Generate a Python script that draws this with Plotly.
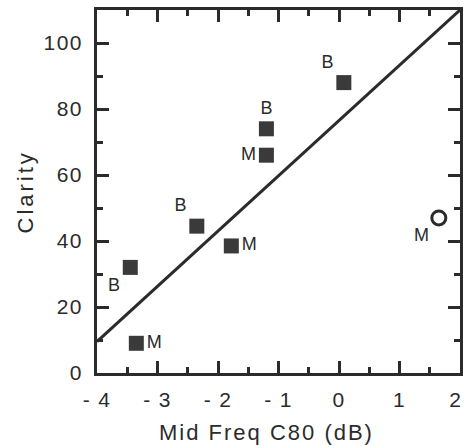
import plotly.graph_objects as go

# Data
filled_x = [0.08, -1.2, -1.2, -2.35, -1.78, -3.45, -3.35]
filled_y = [88, 74, 66, 44.5, 38.5, 32, 9]
filled_labels = ["B", "B", "M", "B", "M", "B", "M"]
filled_pos = ["top left", "top center", "middle left", "top left", "middle right", "bottom left", "middle right"]

open_x = [1.65]
open_y = [47]
open_labels = ["M"]
open_pos = ["bottom left"]

fit_x = [-4, 2]
fit_y = [9.5, 110]

x_tickvals = [-4, -3, -2, -1, 0, 1, 2]
x_ticktext = ["- 4", "- 3", "- 2", "- 1", "0", "1", "2"]
y_tickvals = [0, 20, 40, 60, 80, 100]

ink = "#2b2b2b"
font = "Liberation Sans, Arial, Helvetica, sans-serif"

fig = go.Figure()
fig.add_trace(go.Scatter(x=fit_x, y=fit_y, mode="lines",
                         line=dict(color=ink, width=3), showlegend=False, cliponaxis=False))
fig.add_trace(go.Scatter(x=filled_x, y=filled_y, mode="markers+text",
                         text=filled_labels, textposition=filled_pos,
                         textfont=dict(family=font, size=18, color=ink),
                         marker=dict(symbol="square", size=15, color="#3a3a3a",
                                     line=dict(width=0)),
                         showlegend=False))
fig.add_trace(go.Scatter(x=open_x, y=open_y, mode="markers+text",
                         text=open_labels, textposition=open_pos,
                         textfont=dict(family=font, size=18, color=ink),
                         marker=dict(symbol="circle-open", size=14, color=ink,
                                     line=dict(width=3)),
                         showlegend=False))

axis_common = dict(showgrid=False, zeroline=False, showline=True, linewidth=3,
                   linecolor=ink, mirror="ticks", ticks="inside", tickwidth=2.5,
                   tickcolor=ink, ticklen=12,
                   tickfont=dict(family=font, size=21, color=ink))

fig.update_xaxes(range=[-4, 2], tickvals=x_tickvals,
                 ticktext=x_ticktext[:-1] + [""],
                 minor=dict(ticks="inside", dtick=0.5, tick0=0, ticklen=6,
                            tickwidth=2.5, tickcolor=ink),
                 ticklabelstandoff=6, **axis_common)
fig.update_yaxes(range=[0, 110], tickvals=y_tickvals,
                 minor=dict(ticks="inside", dtick=10, tick0=0, ticklen=6,
                            tickwidth=2.5, tickcolor=ink),
                 ticklabelstandoff=7, **axis_common)

# last x tick label sits on the figure edge
fig.add_annotation(text=x_ticktext[-1], xref="x", yref="paper",
                   x=x_tickvals[-1], y=0, xanchor="right", yanchor="top",
                   xshift=4, yshift=-13, showarrow=False,
                   font=dict(family=font, size=21, color=ink))

fig.add_annotation(text="Mid Freq C80 (dB)", xref="paper", yref="paper",
                   x=0.467, y=-0.163, xanchor="center", yanchor="middle",
                   showarrow=False, font=dict(family=font, size=22, color=ink))
fig.add_annotation(text="Clarity", xref="paper", yref="paper",
                   x=-0.197, y=0.5, xanchor="center", yanchor="middle", textangle=-90,
                   showarrow=False, font=dict(family=font, size=22, color=ink))

fig.update_layout(width=465, height=445, plot_bgcolor="white", paper_bgcolor="white",
                  margin=dict(l=97, r=2, t=10, b=72))

css = (".xtick text,.ytick text{letter-spacing:1.4px}"
       ".annotation[data-index='0'] text{letter-spacing:1.4px}"
       ".annotation[data-index='1'] text{letter-spacing:2px}"
       ".annotation[data-index='2'] text{letter-spacing:3px}")
post = ("document.body.style.margin='0';document.body.style.overflow='hidden';"
        "var s=document.createElement('style');s.innerHTML=\"" + css + "\";"
        "document.head.appendChild(s);")

fig.write_html("out.html", config={"displayModeBar": False}, post_script=post)
